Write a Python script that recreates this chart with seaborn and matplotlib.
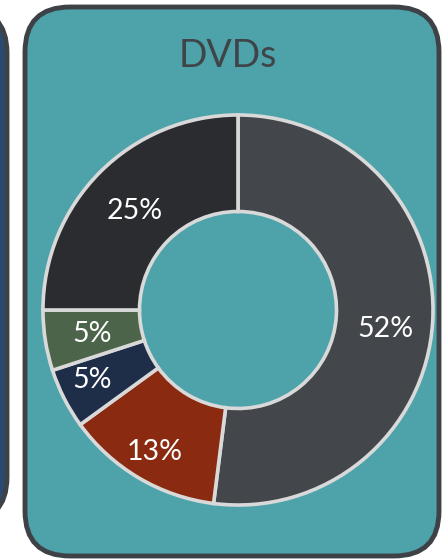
import matplotlib
matplotlib.use("Agg")
import matplotlib.pyplot as plt
from matplotlib.patches import FancyBboxPatch
import numpy as np
import seaborn as sns

# Share of DVD sales by segment (clockwise from 12 o'clock)
segments = ["A", "B", "C", "D", "E"]
shares = [52, 13, 5, 5, 25]
labels = ["52%", "13%", "5%", "5%", "25%"]
seg_colors = ["#43474c", "#8a2a10", "#1e2d48", "#4b644a", "#2a2c30"]
title = "DVDs"

# radial placement of each percentage label (fraction of outer radius)
label_radius = [0.752, 0.827, 0.815, 0.75, 0.735]
label_turn = [3.0, 0.0, 2.0, 0.3, -0.6]   # small angular nudges, degrees

sns.set_theme(style="white")
plt.rcParams["font.family"] = ["Lato", "DejaVu Sans"]

W, H = 442, 559
fig = plt.figure(figsize=(W / 100, H / 100), dpi=100)
fig.patch.set_facecolor("white")

def px_box(x0, y0, x1, y1, r, face, edge, lw):
    # rounded panel given in pixel coordinates (origin top-left)
    bx = FancyBboxPatch(
        (x0 / W, 1 - y1 / H), (x1 - x0) / W, (y1 - y0) / H,
        boxstyle=f"round,pad=0,rounding_size={r / W}",
        transform=fig.transFigure, facecolor=face, edgecolor=edge,
        linewidth=lw, zorder=-5,
        mutation_aspect=W / H,
    )
    fig.patches.append(bx)

# neighbouring panel peeking in at the left
px_box(-120, 8, 7, 522, 45, "#2b4a70", "#3c4248", 3.5)
# main panel
px_box(25, 7, 439, 556, 45, "#4da3a9", "#3e4247", 3.5)

fig.text(228 / W, 1 - 56 / H, title, ha="center", va="center",
         fontsize=27, color="#3f4448")

cx, cy, R = 238, 310, 197
ax = fig.add_axes([(cx - R) / W, (H - cy - R) / H, 2 * R / W, 2 * R / H])
ax.set_zorder(5)
ax.patch.set_alpha(0)
ax.axis("off")

palette = sns.color_palette(seg_colors)
wedges, _ = ax.pie(
    shares, colors=palette, startangle=90, counterclock=False,
    radius=0.99,
    wedgeprops=dict(width=0.49, edgecolor="#d9d9d9", linewidth=2.6),
)
ax.set_xlim(-1, 1)
ax.set_ylim(-1, 1)
ax.set_aspect("equal")

# percentage labels at the middle of each wedge
cap = 10 / R  # half the digit height, to sit the baseline under the centre
for w, txt, rf, turn in zip(wedges, labels, label_radius, label_turn):
    mid = np.deg2rad((w.theta1 + w.theta2) / 2 - turn)
    x, y = rf * np.cos(mid), rf * np.sin(mid)
    ax.text(x, y - cap, txt, color="white", fontsize=20.5,
            ha="center", va="baseline")

fig.savefig("out.png", dpi=100)
